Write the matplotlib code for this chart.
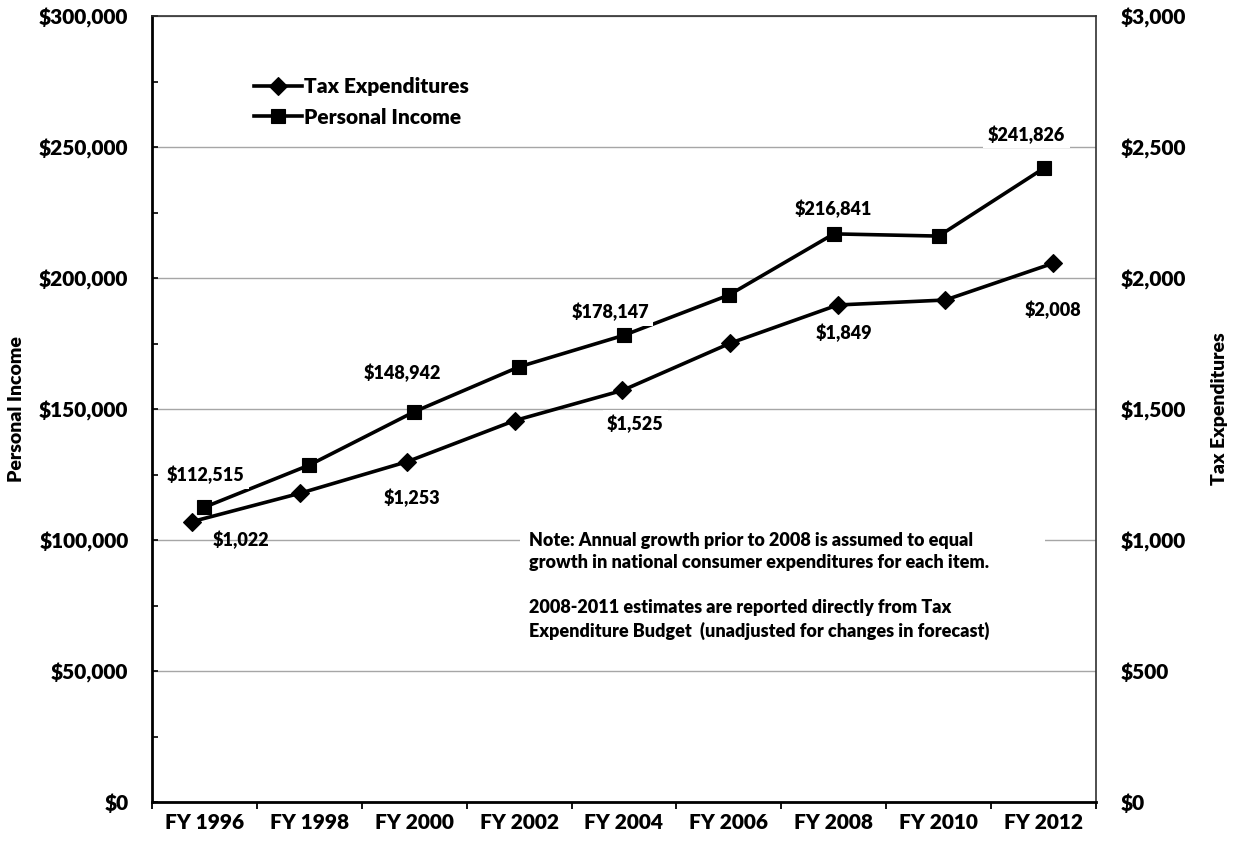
import matplotlib
matplotlib.use('Agg')
import matplotlib.pyplot as plt
import numpy as np
from matplotlib.ticker import MultipleLocator, FuncFormatter
from matplotlib.lines import Line2D
from matplotlib.patches import Rectangle

# ---------------- data ----------------
years = ['FY 1996', 'FY 1998', 'FY 2000', 'FY 2002', 'FY 2004',
         'FY 2006', 'FY 2008', 'FY 2010', 'FY 2012']
personal_income = [112515, 128600, 148942, 166100, 178147, 193500, 216841, 216000, 241826]
tax_expenditures = [1070, 1178, 1299, 1456, 1571, 1751, 1897, 1916, 2056]

income_label_idx = [0, 2, 4, 6, 8]
income_labels = ['$112,515', '$148,942', '$178,147', '$216,841', '$241,826']
tax_label_idx = [0, 2, 4, 6, 8]
tax_labels = ['$1,022', '$1,253', '$1,525', '$1,849', '$2,008']

note_text = ("Note: Annual growth prior to 2008 is assumed to equal\n"
             "growth in national consumer expenditures for each item.\n"
             "\n"
             "2008-2011 estimates are reported directly from Tax\n"
             "Expenditure Budget  (unadjusted for changes in forecast)")

# ---------------- style ----------------
WEIGHT = 'heavy'
plt.rcParams['font.family'] = ['Lato', 'DejaVu Sans']
plt.rcParams['font.weight'] = WEIGHT
W, H = 1239, 849
PX = 0.72  # points per pixel at dpi 100

fig = plt.figure(figsize=(W / 100, H / 100), dpi=100)
rect = [152 / W, 47 / H, 944 / W, 786 / H]
ax = fig.add_axes(rect)
ax2 = fig.add_axes(rect, frameon=False)

x = np.arange(len(years))

# primary axis (Personal Income)
ax.set_xlim(-0.5, len(years) - 0.5)
ax.set_ylim(0, 300000)
ax.set_axisbelow(True)
ax.yaxis.set_major_locator(MultipleLocator(50000))
ax.yaxis.set_minor_locator(MultipleLocator(25000))
ax.yaxis.set_major_formatter(FuncFormatter(lambda v, p: '${:,.0f}'.format(v)))
ax.grid(axis='y', which='major', color='#a6a6a6', lw=1.0)
ax.tick_params(axis='y', which='both', direction='in', length=4.5, width=1.2,
               pad=17, labelsize=15, colors='black')
ax.set_xticks(x)
ax.set_xticklabels(years)
ax.set_xticks(np.arange(-0.5, len(years), 1), minor=True)
ax.tick_params(axis='x', which='major', length=0, pad=8, labelsize=15)
ax.tick_params(axis='x', which='minor', direction='out', length=5, width=1.3)
for lab in ax.get_xticklabels() + ax.get_yticklabels():
    lab.set_fontweight(WEIGHT)
ax.spines['left'].set_linewidth(2)
ax.spines['bottom'].set_linewidth(2)
ax.spines['top'].set_linewidth(1.2)
ax.spines['top'].set_color('#303030')
ax.spines['right'].set_linewidth(1.2)
ax.spines['right'].set_color('#303030')

ax.plot(x, personal_income, color='black', lw=2.6, marker='s', ms=10.5,
        mew=0.8, zorder=3)

for i, lab, (dx, dy) in zip(income_label_idx, income_labels,
                            [(1, 32), (-12, 39), (-14, 23), (0, 25), (-17, 34)]):
    ax.annotate(lab, (x[i], personal_income[i]), xytext=(dx * PX, dy * PX),
                textcoords='offset points', ha='center', va='center',
                fontsize=13, fontweight=WEIGHT, zorder=5,
                bbox=dict(boxstyle='square,pad=0.25', fc='white', ec='none'))

# note box covering gridline
ax.add_patch(Rectangle((520 / W, (H - 640) / H), 525 / W, 115 / H,
                       transform=fig.transFigure, fc='white', ec='none',
                       zorder=1))
fig.text(529 / W, 1 - 532 / H, note_text, ha='left', va='top', fontsize=13,
         fontweight=WEIGHT, linespacing=1.38)

# secondary axis (Tax Expenditures)
ax2.set_xlim(-0.372, len(years) - 1 + 0.40)
ax2.set_ylim(0, 3000)
ax2.xaxis.set_visible(False)
ax2.yaxis.tick_right()
ax2.yaxis.set_major_locator(MultipleLocator(500))
ax2.yaxis.set_major_formatter(FuncFormatter(lambda v, p: '${:,.0f}'.format(v)))
ax2.tick_params(axis='y', length=0, pad=18, labelsize=15)
for lab in ax2.get_yticklabels():
    lab.set_fontweight(WEIGHT)

ax2.plot(x, tax_expenditures, color='black', lw=2.6, marker='D', ms=9,
         mew=0.8, zorder=3)

for j, (i, lab) in enumerate(zip(tax_label_idx, tax_labels)):
    dx, dy = [(49, -18), (5, -36), (13, -33), (6, -28), (0, -47)][j]
    kw = {}
    if j > 0:
        kw['bbox'] = dict(boxstyle='square,pad=0.25', fc='white', ec='none')
    ax2.annotate(lab, (x[i], tax_expenditures[i]), xytext=(dx * PX, dy * PX),
                 textcoords='offset points', ha='center', va='center',
                 fontsize=13, fontweight=WEIGHT, zorder=5, **kw)

# legend
handles = [Line2D([], [], color='black', lw=2.6, marker='D', ms=9, mew=0.8),
           Line2D([], [], color='black', lw=2.6, marker='s', ms=10.5, mew=0.8)]
leg = ax2.legend(handles, ['Tax Expenditures', 'Personal Income'],
                 loc='center left', bbox_to_anchor=(254 / W, 1 - 102 / H),
                 bbox_transform=fig.transFigure, frameon=False,
                 handlelength=2.3, handletextpad=0.1, labelspacing=0.55,
                 borderpad=0, borderaxespad=0,
                 prop={'size': 15, 'weight': WEIGHT})

# axis titles
fig.text(17 / W, 1 - 409 / H, 'Personal Income', rotation=90, ha='center',
         va='center', fontsize=14, fontweight=WEIGHT)
fig.text(1219 / W, 1 - 409 / H, 'Tax Expenditures', rotation=90, ha='center',
         va='center', fontsize=14, fontweight=WEIGHT)

fig.savefig('out.png', dpi=100)
